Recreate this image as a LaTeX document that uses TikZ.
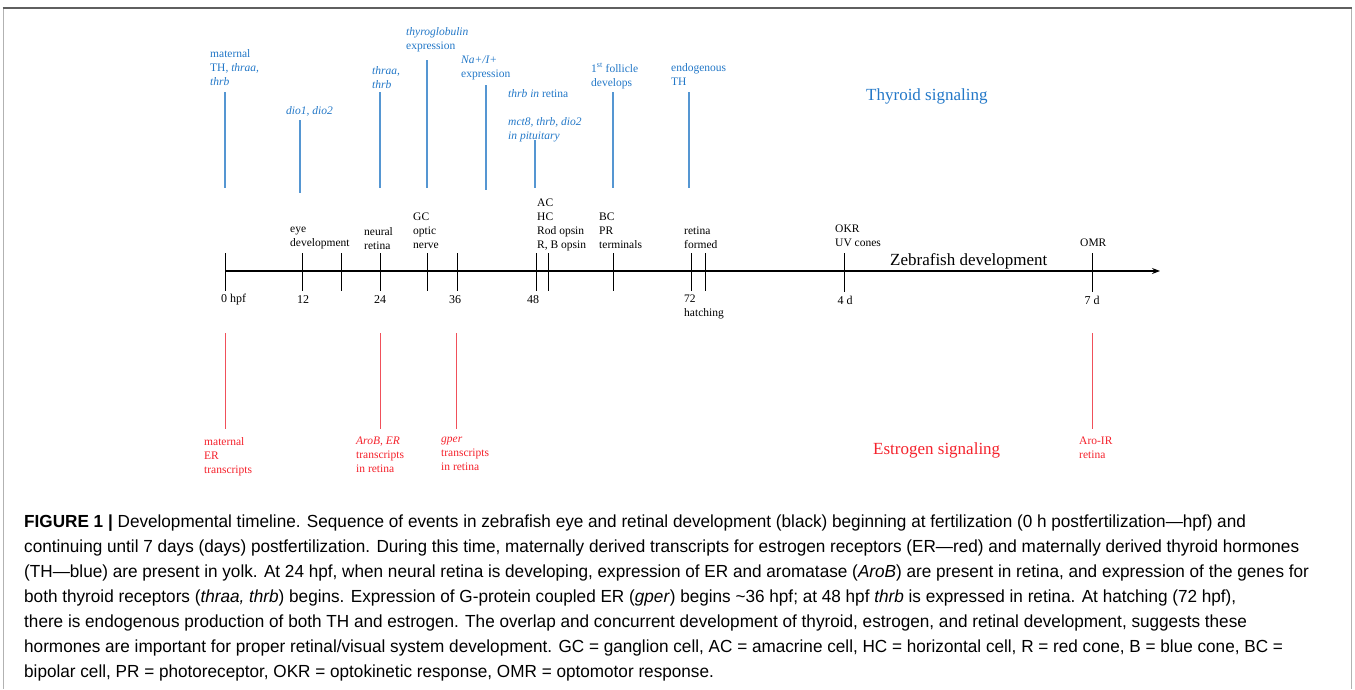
\documentclass[tikz,border=0pt]{standalone}
\usepackage{fontspec}
\setmainfont{Liberation Serif}
\newfontfamily\capfont[FakeStretch=0.98]{Liberation Sans}
\usetikzlibrary{arrows.meta}
\definecolor{tblue}{RGB}{35,120,200}
\definecolor{tline}{RGB}{85,150,210}
\definecolor{ered}{RGB}{245,35,45}
\definecolor{eline}{RGB}{240,80,90}
\definecolor{framegray}{RGB}{95,95,95}
\begin{document}
\begin{tikzpicture}[x=1pt,y=-1pt,
  lbl/.style={font=\fontsize{11.5}{14}\selectfont, align=left, inner sep=0pt, anchor=north west},
  blbl/.style={lbl, text=tblue},
  rlbl/.style={lbl, text=ered},
  big/.style={font=\fontsize{17}{20}\selectfont, inner sep=0pt, anchor=west},
  ticksty/.style={black, line width=0.9pt},
  bline/.style={tline, line width=1.2pt},
  rline/.style={eline, line width=1pt},
  axislabel/.style={font=\fontsize{12}{14}\selectfont, inner sep=0pt},
  capline/.style={font=\capfont\fontsize{17.5}{25}\selectfont, inner sep=0pt, anchor=base west}
]
\useasboundingbox (0,0) rectangle (1355,689);
\fill[white] (0,0) rectangle (1355,689);
% frame
\draw[gray!60, line width=0.8pt] (3,8) -- (3,689);
\draw[gray!60, line width=0.8pt] (1351,8) -- (1351,689);
\draw[framegray, line width=2pt] (2.5,8) -- (1351.5,8);

% axis
\coordinate (ax0) at (225,271);
\coordinate (ax1) at (1160,271);
\draw[black, line width=1.1pt, -{Stealth[length=8pt,width=6pt]}] (ax0) -- (ax1);
\foreach \x in {225,302,341,380,427,457,536,548,613,691,705}
  \draw[ticksty] (\x,253) -- (\x,291);
\foreach \x in {844,1092}
  \draw[ticksty] (\x,253) -- (\x,292);

% axis labels below
\node[axislabel, anchor=west] (l0) at (221,300) {0 hpf};
\node[axislabel] (l12) at (303,300) {12};
\node[axislabel] (l24) at (380,300) {24};
\node[axislabel] (l36) at (455,300) {36};
\node[axislabel] (l48) at (533,300) {48};
\node[lbl] (l72) at (684,295) {72\\hatching};
\node[axislabel] (l4d) at (845,300) {4 d};
\node[axislabel] (l7d) at (1092,300) {7 d};
\node[big] (zf) at (890,261) {Zebrafish development};

% black event labels
\node[lbl] (eye) at (290,227) {eye\\development};
\node[lbl] (neur) at (364,227) {neural\\retina};
\node[lbl] (gc) at (413,213) {GC\\optic\\nerve};
\node[lbl] (ac) at (537,199) {AC\\HC\\Rod opsin\\R, B opsin};
\node[lbl] (bc) at (599,213) {BC\\PR\\terminals};
\node[lbl] (ret) at (684,227) {retina\\formed};
\node[lbl] (okr) at (835,225) {OKR\\UV cones};
\node[lbl] (omr) at (1080,239) {OMR};

% thyroid signaling (blue)
\node[blbl] (t1) at (210,49) {maternal\\TH, \textit{thraa,}\\\textit{thrb}};
\node[blbl] (t2) at (286,106) {\textit{dio1, dio2}};
\node[blbl] (t3) at (372,66) {\textit{thraa,}\\\textit{thrb}};
\node[blbl] (t4) at (406,27) {\textit{thyroglobulin}\\expression};
\node[blbl] (t5) at (461,56) {\textit{Na+/I+}\\expression};
\node[blbl] (t6) at (508,89) {\textit{thrb in} retina};
\node[blbl] (t7) at (508,117) {\textit{mct8, thrb, dio2}\\\textit{in pituitary}};
\node[blbl] (t8) at (591,63) {1\textsuperscript{st} follicle\\develops};
\node[blbl] (t9) at (671,63) {endogenous\\TH};
\node[big, text=tblue] (ts) at (866,96) {Thyroid signaling};
\draw[bline] (225,92) -- (225,188);
\draw[bline] (300,120) -- (300,193);
\draw[bline] (380,92) -- (380,188);
\draw[bline] (427,60) -- (427,188);
\draw[bline] (486,85) -- (486,190);
\draw[bline] (535,140) -- (535,188);
\draw[bline] (613,92) -- (613,188);
\draw[bline] (689,92) -- (689,188);

% estrogen signaling (red)
\draw[rline] (225,333) -- (225,429);
\draw[rline] (380,333) -- (380,429);
\draw[rline] (456,333) -- (456,429);
\draw[rline] (1092,333) -- (1092,429);
\node[rlbl] (e1) at (204,437) {maternal\\ER\\transcripts};
\node[rlbl] (e2) at (356,437) {\textit{AroB, ER}\\transcripts\\in retina};
\node[rlbl] (e3) at (441,437) {\textit{gper}\\transcripts\\in retina};
\node[rlbl] (e4) at (1079,437) {Aro-IR\\retina};
\node[big, text=ered] (es) at (873,450) {Estrogen signaling};

% caption
\node[capline] (c1) at (24,527) {\textbf{FIGURE 1 |} Developmental timeline. Sequence of events in zebrafish eye and retinal development (black) beginning at fertilization (0 h postfertilization—hpf) and};
\node[capline] (c2) at (24,552) {continuing until 7 days (days) postfertilization. During this time, maternally derived transcripts for estrogen receptors (ER—red) and maternally derived thyroid hormones};
\node[capline] (c3) at (24,577) {(TH—blue) are present in yolk. At 24 hpf, when neural retina is developing, expression of ER and aromatase (\textit{AroB}) are present in retina, and expression of the genes for};
\node[capline] (c4) at (24,602) {both thyroid receptors (\textit{thraa, thrb}) begins. Expression of G-protein coupled ER (\textit{gper}) begins \textasciitilde36 hpf; at 48 hpf \textit{thrb} is expressed in retina. At hatching (72 hpf),};
\node[capline] (c5) at (24,627) {there is endogenous production of both TH and estrogen. The overlap and concurrent development of thyroid, estrogen, and retinal development, suggests these};
\node[capline] (c6) at (24,652) {hormones are important for proper retinal/visual system development. GC = ganglion cell, AC = amacrine cell, HC = horizontal cell, R = red cone, B = blue cone, BC =};
\node[capline] (c7) at (24,677) {bipolar cell, PR = photoreceptor, OKR = optokinetic response, OMR = optomotor response.};
\end{tikzpicture}
\end{document}
